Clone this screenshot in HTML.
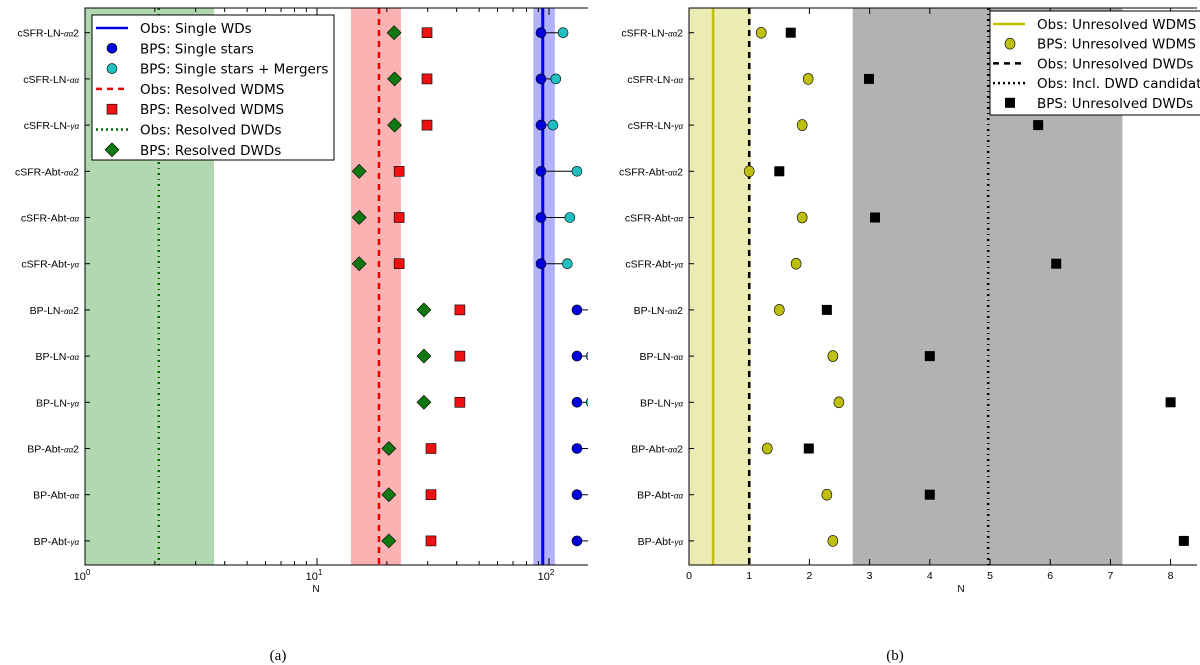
<!DOCTYPE html>
<html><head><meta charset="utf-8"><style>
html,body{margin:0;padding:0;background:#fff;width:1200px;height:665px;overflow:hidden}
svg{display:block;font-family:"Liberation Sans","DejaVu Sans",sans-serif}
</style></head><body>
<svg id="fig" width="1200" height="665" viewBox="0 0 1200 665"></svg>
<script>
const categories=["cSFR-LN-αα2","cSFR-LN-αα","cSFR-LN-γα","cSFR-Abt-αα2","cSFR-Abt-αα","cSFR-Abt-γα","BP-LN-αα2","BP-LN-αα","BP-LN-γα","BP-Abt-αα2","BP-Abt-αα","BP-Abt-γα"];
const resolvedDWDs=[21.5,21.6,21.6,15.2,15.2,15.2,28.9,28.9,28.9,20.4,20.4,20.4];
const resolvedWDMS=[29.8,29.8,29.8,22.6,22.6,22.6,41.3,41.3,41.3,31,31,31];
const singleStars=[92.4,92.4,92.4,92.4,92.4,92.4,132,132,132,132,132,132];
const singleMergers=[115,107,104,132,123,120,160,152,152,160,165,170];
const obsSingle=[94,85.6,106];
const obsWDMS=[18.5,14,23];
const obsDWD=[2.08,1,3.6];
const leftTicks=[1,10,100];
const leftTickExp=["0","1","2"];
const unresWDMS=[1.2,1.98,1.88,1.0,1.88,1.78,1.5,2.39,2.49,1.3,2.29,2.39];
const unresDWD=[1.69,2.99,5.8,1.5,3.09,6.1,2.29,4.0,8.0,1.99,4.0,8.22];
const obsUnresWDMS=[0.4,0,1.03];
const obsUnresDWD=[1.0];
const obsCand=[4.97,2.72,7.2];
const rightTicks=[0,1,2,3,4,5,6,7,8];

const NS="http://www.w3.org/2000/svg";
const svg=document.getElementById('fig');
function mk(tag,attrs,parent){const e=document.createElementNS(NS,tag);for(const k in attrs)e.setAttribute(k,attrs[k]);(parent||svg).appendChild(e);return e;}
const top0=8,bot=565;
const yRow=i=>32.7+i*46.2;
const L0=85,L1=588;
const xL=v=>L0+Math.log10(v)*232;
const xR=v=>689+v*60.2;
const R0=689,R1=1197;
const LEGFONT='"DejaVu Sans","Liberation Sans",sans-serif';

function catLabel(g,x,y,name){
  const t=mk('text',{x:x,y:y+4,'text-anchor':'end','font-size':'10.5',fill:'#000'},g);
  
  
  const m=name.match(/^(.*-)([αγ]+)(2?)$/);
  t.appendChild(document.createTextNode(m[1]));
  const s=mk('tspan',{'font-size':'8','font-style':'italic'},t);s.textContent=m[2];
  if(m[3]){const s2=mk('tspan',{},t);s2.textContent=m[3];}
}

// ---- LEFT
const gl=mk('g',{});
const clipL=mk('clipPath',{id:'cl'},gl);mk('rect',{x:L0,y:top0,width:L1-L0,height:bot-top0},clipL);
const pl=mk('g',{'clip-path':'url(#cl)'},gl);
let b=mk('rect',{x:xL(obsDWD[1]),y:top0,width:xL(obsDWD[2])-xL(obsDWD[1]),height:bot-top0,fill:'#b2d8b2'},pl);
b=mk('rect',{x:xL(obsWDMS[1]),y:top0,width:xL(obsWDMS[2])-xL(obsWDMS[1]),height:bot-top0,fill:'#fbb2b2'},pl);
b=mk('rect',{x:xL(obsSingle[1]),y:top0,width:xL(obsSingle[2])-xL(obsSingle[1]),height:bot-top0,fill:'#b2b2fb'},pl);
let l=mk('line',{x1:xL(obsDWD[0]),x2:xL(obsDWD[0]),y1:top0,y2:bot,stroke:'#006400','stroke-width':2.5,'stroke-dasharray':'2 4 1 4'},pl);
l=mk('line',{x1:xL(obsWDMS[0]),x2:xL(obsWDMS[0]),y1:top0,y2:bot,stroke:'#e00','stroke-width':2.5,'stroke-dasharray':'6 5'},pl);
l=mk('line',{x1:xL(obsSingle[0]),x2:xL(obsSingle[0]),y1:top0,y2:bot,stroke:'#0000ee','stroke-width':3},pl);
categories.forEach((c,i)=>{
  const y=yRow(i);
  let e=mk('line',{x1:xL(singleStars[i]),x2:xL(singleMergers[i]),y1:y,y2:y,stroke:'#000','stroke-width':1},pl);
  e=mk('circle',{cx:xL(singleMergers[i]),cy:y,r:5,fill:'#20c0c0',stroke:'#000','stroke-width':0.6},pl);
  e=mk('circle',{cx:xL(singleStars[i]),cy:y,r:5,fill:'#0000dd',stroke:'#000','stroke-width':0.6},pl);
  const sx=xL(resolvedWDMS[i]);
  e=mk('rect',{x:sx-5,y:y-5,width:10,height:10,fill:'#ee1111',stroke:'#000','stroke-width':0.6},pl);
  const dx=xL(resolvedDWDs[i]);
  e=mk('polygon',{points:`${dx},${y-7} ${dx+7},${y} ${dx},${y+7} ${dx-7},${y}`,fill:'#117711',stroke:'#000','stroke-width':0.6},pl);
  catLabel(gl,L0-6,y,c);
  mk('line',{x1:L0,x2:L0+5,y1:y,y2:y,stroke:'#000'},gl);
});
for(let d=0;d<3;d++)for(let k=1;k<10;k++){const v=Math.pow(10,d)*k;const x=xL(v);if(x>L1)continue;const len=k==1?7:4;
  mk('line',{x1:x,x2:x,y1:bot,y2:bot-len,stroke:'#000'},gl);mk('line',{x1:x,x2:x,y1:top0,y2:top0+len,stroke:'#000'},gl);}
leftTicks.forEach((v,i)=>{const t=mk('text',{x:xL(v)-3,y:bot+15,'text-anchor':'middle','font-size':'11'},gl);t.textContent='10';const s=mk('tspan',{dy:-5,'font-size':'8'},t);s.textContent=leftTickExp[i];});
mk('path',{d:`M${L1},${top0} H${L0} V${bot} H${L1}`,fill:'none',stroke:'#000','stroke-width':1},gl);
let t=mk('text',{x:316,y:592,'text-anchor':'middle','font-size':'10'},gl);t.textContent='N';
t=mk('text',{x:278,y:660,'text-anchor':'middle','font-size':'15','font-family':'Liberation Serif,serif'},gl);t.textContent='(a)';
const lg=mk('g',{});
mk('rect',{x:92,y:15,width:242,height:145,fill:'#fff',stroke:'#000','stroke-width':1},lg);
const legA=[['line','#0000ee','','Obs: Single WDs'],['circ','#0000dd','','BPS: Single stars'],['circ','#20c0c0','','BPS: Single stars + Mergers'],['line','#e00','6 5','Obs: Resolved WDMS'],['sq','#ee1111','','BPS: Resolved WDMS'],['line','#006400','2 3','Obs: Resolved DWDs'],['dia','#117711','','BPS: Resolved DWDs']];
legA.forEach((e,i)=>{const y=28+i*20.3;const g=mk('g',{},lg);
  if(e[0]=='line')mk('line',{x1:96,x2:128,y1:y,y2:y,stroke:e[1],'stroke-width':2.5,'stroke-dasharray':e[2]},g);
  if(e[0]=='circ')mk('circle',{cx:112,cy:y,r:5,fill:e[1],stroke:'#000','stroke-width':0.6},g);
  if(e[0]=='sq')mk('rect',{x:107,y:y-5,width:10,height:10,fill:e[1],stroke:'#000','stroke-width':0.6},g);
  if(e[0]=='dia')mk('polygon',{points:`112,${y-7} 119,${y} 112,${y+7} 105,${y}`,fill:e[1],stroke:'#000','stroke-width':0.6},g);
  const tx=mk('text',{x:140,y:y+5,'font-size':'13.5','font-family':LEGFONT},g);tx.textContent=e[3];});

// ---- RIGHT
const gr=mk('g',{});
b=mk('rect',{x:xR(obsUnresWDMS[1]),y:top0,width:xR(obsUnresWDMS[2])-xR(obsUnresWDMS[1]),height:bot-top0,fill:'#ebebb4'},gr);
b=mk('rect',{x:xR(obsCand[1]),y:top0,width:xR(obsCand[2])-xR(obsCand[1]),height:bot-top0,fill:'#b2b2b2'},gr);
l=mk('line',{x1:xR(obsUnresWDMS[0]),x2:xR(obsUnresWDMS[0]),y1:top0,y2:bot,stroke:'#bfbf00','stroke-width':2.5},gr);
l=mk('line',{x1:xR(obsUnresDWD[0]),x2:xR(obsUnresDWD[0]),y1:top0,y2:bot,stroke:'#000','stroke-width':2.5,'stroke-dasharray':'6 5'},gr);
l=mk('line',{x1:xR(obsCand[0]),x2:xR(obsCand[0]),y1:top0,y2:bot,stroke:'#000','stroke-width':2.5,'stroke-dasharray':'2 4 1 4'},gr);
categories.forEach((c,i)=>{const y=yRow(i);
  let e=mk('ellipse',{cx:xR(unresWDMS[i]),cy:y,rx:5,ry:5.5,fill:'#bfbf10',stroke:'#000','stroke-width':0.6},gr);
  e=mk('rect',{x:xR(unresDWD[i])-5,y:y-5,width:10,height:10,fill:'#000'},gr);
  catLabel(gr,R0-6,y,c);
  mk('line',{x1:R0,x2:R0+5,y1:y,y2:y,stroke:'#000'},gr);
});
rightTicks.forEach(v=>{const x=xR(v);mk('line',{x1:x,x2:x,y1:bot,y2:bot-6,stroke:'#000'},gr);mk('line',{x1:x,x2:x,y1:top0,y2:top0+6,stroke:'#000'},gr);
  const tt=mk('text',{x:x,y:bot+14,'text-anchor':'middle','font-size':'10.5'},gr);tt.textContent=v;});
mk('path',{d:`M${R1},${top0} H${R0} V${bot} H${R1}`,fill:'none',stroke:'#000','stroke-width':1},gr);
t=mk('text',{x:961,y:592,'text-anchor':'middle','font-size':'10'},gr);t.textContent='N';
t=mk('text',{x:895,y:660,'text-anchor':'middle','font-size':'15','font-family':'Liberation Serif,serif'},gr);t.textContent='(b)';
const lr=mk('g',{});
mk('rect',{x:990,y:11,width:220,height:104,fill:'#fff',stroke:'#000','stroke-width':1},lr);
const legB=[['line','#bfbf00','','Obs: Unresolved WDMS'],['circ','#bfbf10','','BPS: Unresolved WDMS'],['line','#000','6 5','Obs: Unresolved DWDs'],['line','#000','2 3','Obs: Incl. DWD candidates'],['sq','#000','','BPS: Unresolved DWDs']];
legB.forEach((e,i)=>{const y=24+i*19.7;const g=mk('g',{},lr);
  if(e[0]=='line')mk('line',{x1:993,x2:1025,y1:y,y2:y,stroke:e[1],'stroke-width':2.5,'stroke-dasharray':e[2]},g);
  if(e[0]=='circ')mk('ellipse',{cx:1010,cy:y,rx:5,ry:5.5,fill:e[1],stroke:'#000','stroke-width':0.6},g);
  if(e[0]=='sq')mk('rect',{x:1005,y:y-5,width:10,height:10,fill:e[1]},g);
  const tx=mk('text',{x:1037,y:y+5,'font-size':'13.5','font-family':LEGFONT},g);tx.textContent=e[3];});
</script>
</body></html>
